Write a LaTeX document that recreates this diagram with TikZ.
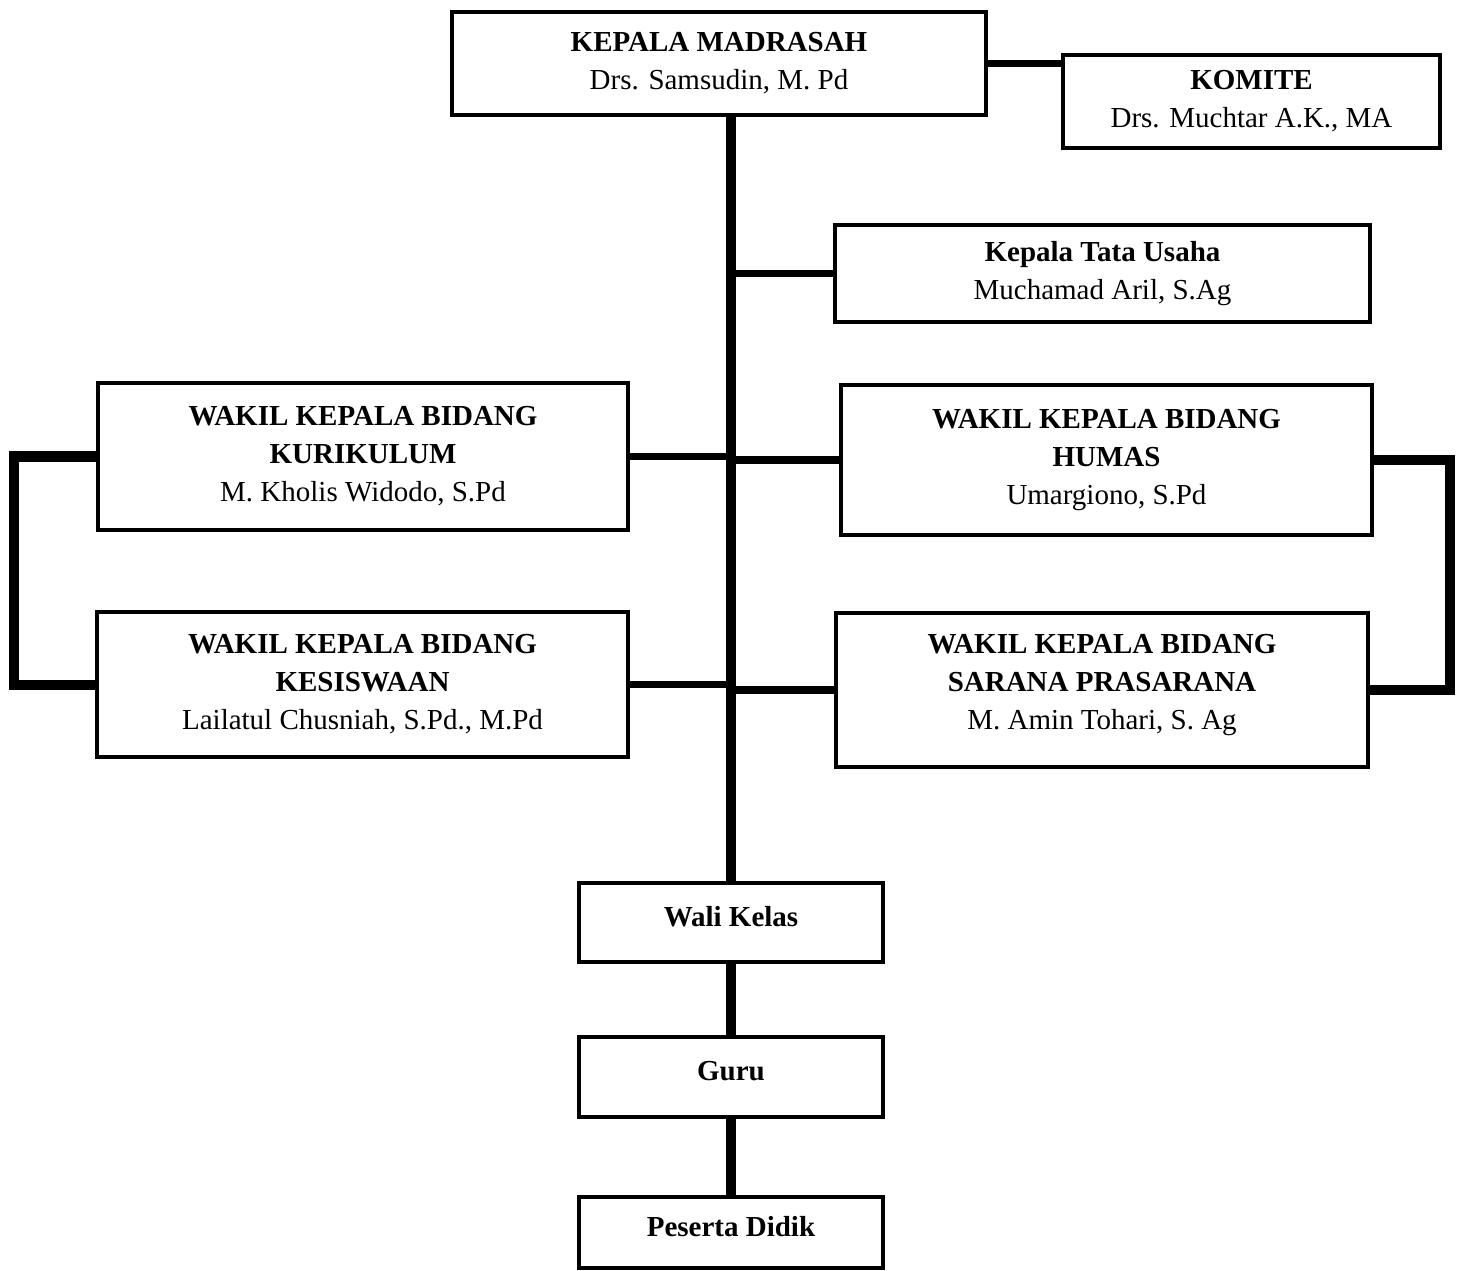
\documentclass[tikz,border=0pt]{standalone}
\usepackage{fontspec}
\setmainfont{Liberation Serif}
\usetikzlibrary{calc}

\begin{document}
\begin{tikzpicture}[x=0.02cm, y=-0.02cm,
    box/.style={draw, line width=2.6pt, align=center, inner sep=0pt, fill=white,
        font=\fontsize{16.5}{21.6}\selectfont},
    link/.style={line width=4.4pt},
    trunk/.style={line width=5.6pt},
    bracket/.style={line width=5.7pt, line join=miter}]

    \useasboundingbox (0,0) rectangle (1464,1271);

    % Head and committee
    \node[box, minimum width=10.68cm, minimum height=2.06cm] (kepala) at (719,63.5)
        {\textbf{KEPALA MADRASAH}\\Drs. Samsudin, M. Pd};
    \node[box, minimum width=7.54cm, minimum height=1.86cm] (komite) at (1251.5,101.5)
        {\textbf{KOMITE}\\Drs. Muchtar A.K., MA};

    % Administration
    \node[box, minimum width=10.7cm, minimum height=1.94cm] (ktu) at (1102.5,273.5)
        {\textbf{Kepala Tata Usaha}\\Muchamad Aril, S.Ag};

    % Deputies
    \node[box, minimum width=10.6cm, minimum height=2.94cm] (kur) at (363,456.5)
        {\textbf{WAKIL KEPALA BIDANG}\\\textbf{KURIKULUM}\\M. Kholis Widodo, S.Pd};
    \node[box, minimum width=10.62cm, minimum height=2.9cm] (kes) at (362.5,684.5)
        {\textbf{WAKIL KEPALA BIDANG}\\\textbf{KESISWAAN}\\Lailatul Chusniah, S.Pd., M.Pd};
    \node[box, minimum width=10.62cm, minimum height=3.0cm] (humas) at (1106.5,460)
        {\textbf{WAKIL KEPALA BIDANG}\\\textbf{HUMAS}\\Umargiono, S.Pd};
    \node[box, minimum width=10.64cm, minimum height=3.08cm, text depth=0.33cm] (sarana) at (1102,690)
        {\textbf{WAKIL KEPALA BIDANG}\\\textbf{SARANA PRASARANA}\\M. Amin Tohari, S. Ag};

    % Lower levels
    \node[box, minimum width=6.08cm, minimum height=1.58cm, text depth=0.25cm] (wali) at (731,922.5) {\textbf{Wali Kelas}};
    \node[box, minimum width=6.08cm, minimum height=1.6cm, text depth=0.25cm] (guru) at (731,1077) {\textbf{Guru}};
    \node[box, minimum width=6.08cm, minimum height=1.42cm, text depth=0.25cm] (peserta) at (731,1232.5) {\textbf{Peserta Didik}};

    % Main line
    \draw[trunk] (kepala.south -| wali.north) -- (wali.north);
    \draw[trunk] (wali.south) -- (guru.north);
    \draw[trunk] (guru.south) -- (peserta.north);

    % Branches
    \draw[link] (kepala.east) -- (kepala.east -| komite.west);
    \foreach \b in {ktu, humas, sarana} {
        \draw[link] (\b.west) -- (\b.west -| wali.north);
    }
    \foreach \b in {kur, kes} {
        \draw[link] (\b.east) -- (\b.east -| wali.north);
    }

    % Side brackets
    \coordinate (lbar) at (14,0);
    \coordinate (rbar) at (1450,0);
    \draw[bracket] (kur.west) -- (kur.west -| lbar) -- (kes.west -| lbar) -- (kes.west);
    \draw[bracket] (humas.east) -- (humas.east -| rbar) -- (sarana.east -| rbar) -- (sarana.east);

\end{tikzpicture}
\end{document}
